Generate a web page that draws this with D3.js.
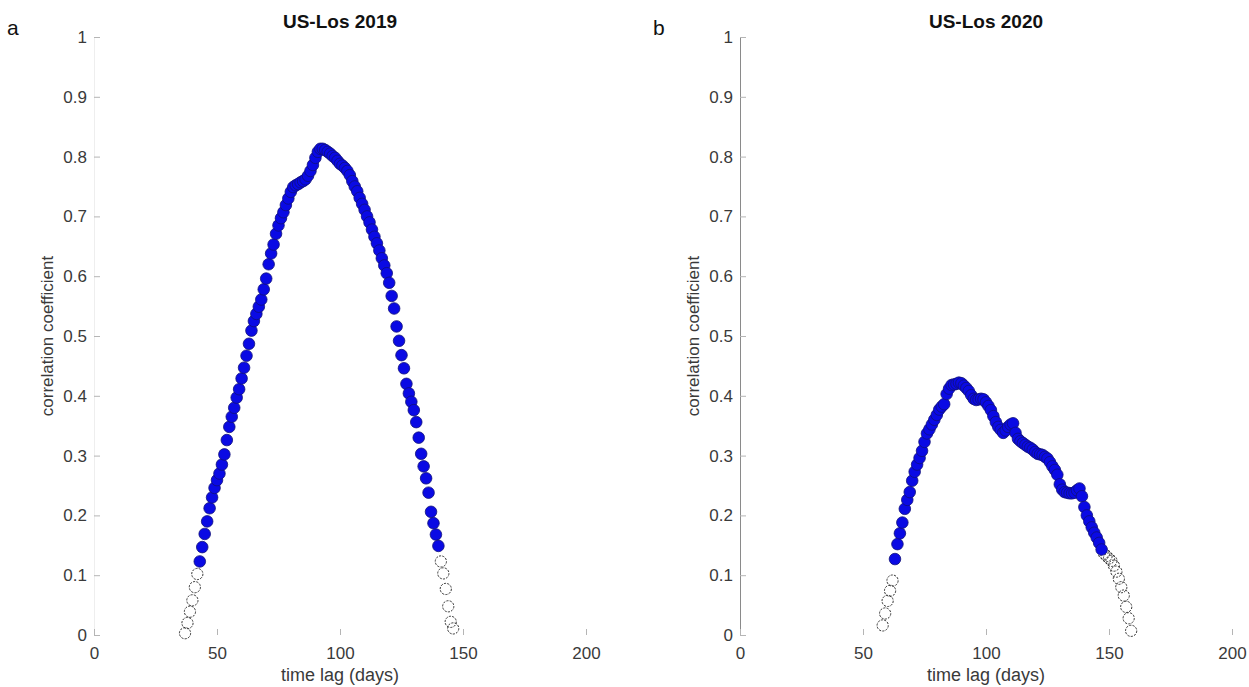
<!DOCTYPE html>
<html>
<head>
<meta charset="utf-8">
<script src="https://cdn.jsdelivr.net/npm/d3@7"></script>
<style>
  body { margin: 0; background: #fff; }
  text { font-family: "Liberation Sans", Arial, sans-serif; }
</style>
</head>
<body>
<script>
// panel titles and labels
var panelNames = ["a", "b"];
var panelTitles = ["US-Los 2019", "US-Los 2020"];

// ticks
var xTicks = [0, 50, 100, 150, 200];
var yTicks = [0, 0.1, 0.2, 0.3, 0.4, 0.5, 0.6, 0.7, 0.8, 0.9, 1];
var yTickLabels = ["0", "0.1", "0.2", "0.3", "0.4", "0.5", "0.6", "0.7", "0.8", "0.9", "1"];

// panel a: lag days and correlation
var lagA = [37,38,39,40,41,42,43,44,45,46,47,48,49,50,51,52,53,54,55,56,57,58,59,60,61,62,63,64,65,66,67,68,69,70,
  71,72,73,74,75,76,77,78,79,80,81,82,83,84,85,86,87,88,89,90,91,92,93,94,95,96,97,98,99,100,101,102,103,104,105,
  106,107,108,109,110,111,112,113,114,115,116,117,118,119,120,121,122,123,124,125,126,127,128,129,130,131,132,133,
  134,135,136,137,138,139,140,141,142,143,144,145,146];
var corrA = [0.003,0.02,0.039,0.058,0.08,0.102,0.123,0.147,0.169,0.19,0.212,0.23,0.246,0.259,0.27,0.285,0.302,0.326,
  0.348,0.365,0.38,0.397,0.411,0.429,0.447,0.467,0.487,0.509,0.525,0.537,0.549,0.561,0.578,0.596,0.62,0.638,0.653,
  0.671,0.685,0.697,0.707,0.719,0.73,0.741,0.749,0.752,0.754,0.757,0.759,0.762,0.768,0.776,0.786,0.798,0.808,0.813,
  0.813,0.811,0.808,0.805,0.801,0.798,0.793,0.788,0.785,0.781,0.776,0.769,0.759,0.75,0.742,0.731,0.721,0.711,0.7,
  0.69,0.678,0.666,0.655,0.643,0.63,0.618,0.605,0.589,0.567,0.546,0.516,0.492,0.468,0.446,0.42,0.404,0.39,0.376,
  0.356,0.33,0.303,0.282,0.262,0.238,0.206,0.187,0.168,0.149,0.123,0.103,0.077,0.048,0.022,0.011];
var sigA = [43, 140]; // filled (significant) lag range

// panel b
var lagB = [58,59,60,61,62,63,64,65,66,67,68,69,70,71,72,73,74,75,76,77,78,79,80,81,82,83,84,85,86,87,88,89,90,
  91,92,93,94,95,96,97,98,99,100,101,102,103,104,105,106,107,108,109,110,111,112,113,114,115,116,117,118,119,120,
  121,122,123,124,125,126,127,128,129,130,131,132,133,134,135,136,137,138,139,140,141,142,143,144,145,146,147,148,
  149,150,151,152,153,154,155,156,157,158,159];
var corrB = [0.016,0.036,0.057,0.074,0.091,0.127,0.152,0.17,0.188,0.211,0.226,0.239,0.258,0.273,0.285,0.296,0.308,
  0.323,0.337,0.344,0.352,0.36,0.368,0.377,0.382,0.386,0.403,0.412,0.418,0.419,0.42,0.422,0.421,0.417,0.413,0.408,
  0.401,0.395,0.393,0.394,0.395,0.394,0.389,0.383,0.376,0.366,0.356,0.348,0.343,0.338,0.342,0.348,0.352,0.354,0.338,
  0.328,0.324,0.321,0.318,0.315,0.313,0.31,0.306,0.303,0.302,0.301,0.298,0.295,0.289,0.282,0.276,0.268,0.252,0.243,
  0.239,0.238,0.237,0.237,0.238,0.242,0.245,0.232,0.214,0.2,0.19,0.18,0.171,0.163,0.154,0.143,0.136,0.132,0.128,
  0.124,0.116,0.106,0.094,0.08,0.066,0.047,0.028,0.007];
var sigB = [63, 147];

var width = 1249, height = 687;
var svg = d3.select("body").append("svg")
  .attr("width", width)
  .attr("height", height);

var panels = [
  {name: panelNames[0], title: panelTitles[0], lag: lagA, corr: corrA, sig: sigA, x0: 94, x1: 586, axisColor: "#eeeeee"},
  {name: panelNames[1], title: panelTitles[1], lag: lagB, corr: corrB, sig: sigB, x0: 740, x1: 1232, axisColor: "#8a8a8a"}
];

panels.forEach(function(p){
  var x = d3.scaleLinear().domain([0, 200]).range([p.x0, p.x1]);
  var y = d3.scaleLinear().domain([0, 1]).range([635, 37]);
  var g = svg.append("g");

  // y axis
  var yAx = g.append("g")
    .attr("transform", "translate(" + p.x0 + ",0)")
    .call(d3.axisLeft(y).tickValues(yTicks)
      .tickFormat(function(d,i){ return yTickLabels[i]; })
      .tickSizeInner(-6).tickSizeOuter(0).tickPadding(7));
  yAx.select(".domain").attr("stroke", p.axisColor);
  yAx.selectAll(".tick line").attr("stroke", "#b5b5b5");
  yAx.selectAll(".tick text").attr("fill", "#3a3a3a").style("font-size", "17px");

  // x axis (ticks only)
  var xAx = g.append("g")
    .attr("transform", "translate(0,635)")
    .call(d3.axisBottom(x).tickValues(xTicks)
      .tickFormat(d3.format("d"))
      .tickSizeInner(-6).tickSizeOuter(0).tickPadding(12));
  xAx.select(".domain").remove();
  xAx.selectAll(".tick line").attr("stroke", "#b5b5b5");
  xAx.selectAll(".tick text").attr("fill", "#3a3a3a").style("font-size", "17px");

  // points
  var pts = p.lag.map(function(d,i){ return {lag: d, r: p.corr[i]}; });
  var sig = function(d){ return d.lag >= p.sig[0] && d.lag <= p.sig[1]; };

  g.selectAll("circle.ns")
    .data(pts.filter(function(d){ return !sig(d); }))
    .enter().append("circle")
      .attr("class", "ns")
      .attr("cx", function(d){ return x(d.lag); })
      .attr("cy", function(d){ return y(d.r); })
      .attr("r", 5.6)
      .attr("fill", "none")
      .attr("stroke", "#222")
      .attr("stroke-width", 0.9)
      .attr("stroke-dasharray", "2.2,1.2");

  g.selectAll("circle.sg")
    .data(pts.filter(sig))
    .enter().append("circle")
      .attr("class", "sg")
      .attr("cx", function(d){ return x(d.lag); })
      .attr("cy", function(d){ return y(d.r); })
      .attr("r", 5.8)
      .attr("fill", "#0a0ae4")
      .attr("stroke", "#10107a")
      .attr("stroke-width", 0.8);

  // labels
  var cx = (p.x0 + p.x1) / 2;
  g.append("text")
    .attr("x", cx).attr("y", 28)
    .attr("text-anchor", "middle")
    .style("font-size", "19px").style("font-weight", "bold")
    .attr("fill", "#111")
    .text(p.title);

  g.append("text")
    .attr("x", cx).attr("y", 681)
    .attr("text-anchor", "middle")
    .style("font-size", "18px")
    .attr("fill", "#3a3a3a")
    .text("time lag (days)");

  g.append("text")
    .attr("transform", "translate(" + (p.x0 - 41) + ",336) rotate(-90)")
    .attr("text-anchor", "middle")
    .style("font-size", "17px")
    .attr("fill", "#3a3a3a")
    .text("correlation coefficient");

  g.append("text")
    .attr("x", p.x0 - 87).attr("y", 35)
    .style("font-size", "21px")
    .attr("fill", "#111")
    .text(p.name);
});
</script>
</body>
</html>
